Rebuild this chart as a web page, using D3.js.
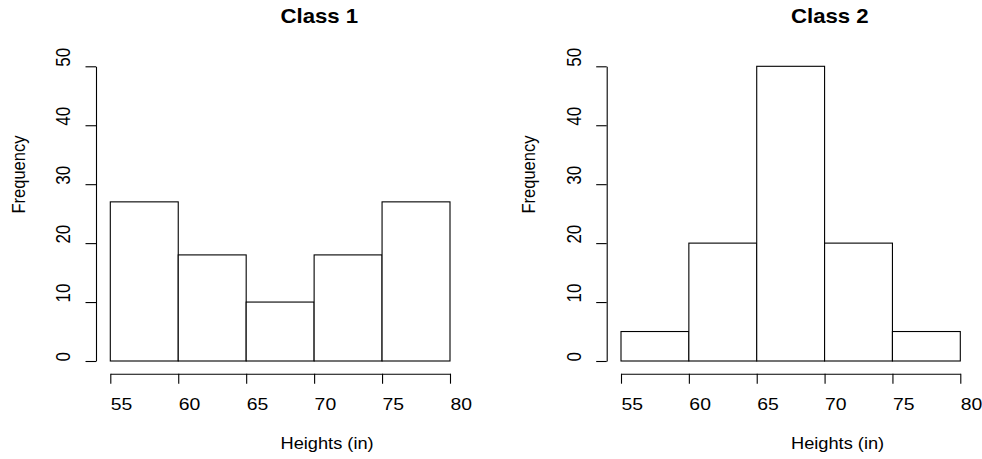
<!DOCTYPE html>
<html>
<head>
<meta charset="utf-8">
<script src="https://cdn.jsdelivr.net/npm/d3@7"></script>
<style>
  html, body { margin: 0; padding: 0; background: #fff; }
  svg { display: block; }
  text { font-family: "Liberation Sans", Arial, Helvetica, sans-serif; fill: #000; }
</style>
</head>
<body>
<script>
// ---- data ----
const binEdges = [55, 60, 65, 70, 75, 80];
const class1Counts = [27, 18, 10, 18, 27];
const class2Counts = [5, 20, 50, 20, 5];
const titles = ["Class 1", "Class 2"];
const xTicks = [55, 60, 65, 70, 75, 80];
const yTicks = [0, 10, 20, 30, 40, 50];
const xLabel = "Heights (in)";
const yLabel = "Frequency";

const W = 982, H = 459;
const svg = d3.select("body").append("svg").attr("width", W).attr("height", H);

const panels = [
  { counts: class1Counts, title: titles[0], axisX: 96, x0: 110.3, x1: 450, mid: 280.5 },
  { counts: class2Counts, title: titles[1], axisX: 606.7, x0: 621, x1: 960.3, mid: 791 }
];
const SX = 1.14; // horizontal stretch of the original raster

panels.forEach(p => {
  const g = svg.append("g");
  const x = d3.scaleLinear().domain([55, 80]).range([p.x0, p.x1]);
  const y = d3.scaleLinear().domain([0, 50]).range([361, 66.3]);

  const bins = p.counts.map((c, i) => ({ lo: binEdges[i], hi: binEdges[i + 1], c }));
  g.selectAll("rect.bar").data(bins).enter().append("rect")
    .attr("class", "bar")
    .attr("x", d => x(d.lo))
    .attr("y", d => y(d.c))
    .attr("width", d => x(d.hi) - x(d.lo))
    .attr("height", d => y(0) - y(d.c))
    .attr("fill", "#fff")
    .attr("stroke", "#000")
    .attr("stroke-width", 1.1);

  // x axis
  const xa = g.append("g").attr("transform", "translate(0,373.7)")
    .call(d3.axisBottom(x).tickValues(xTicks).tickSize(10).tickSizeOuter(0).tickFormat(d3.format("d")));
  xa.selectAll("path, line").attr("stroke", "#000").attr("stroke-width", 1.1);
  xa.selectAll("text")
    .attr("y", null).attr("dy", null)
    .attr("text-anchor", "start")
    .attr("font-size", 17)
    .attr("transform", "translate(0,36.3) scale(" + SX + ",1)");
  xa.attr("font-family", null).attr("font-size", null);

  // y axis
  const ya = g.append("g").attr("transform", "translate(" + p.axisX + ",0)")
    .call(d3.axisLeft(y).tickValues(yTicks).tickSize(10.5).tickSizeOuter(0).tickFormat(d3.format("d")));
  ya.selectAll("path, line").attr("stroke", "#000").attr("stroke-width", 1.1);
  ya.selectAll(".tick text")
    .attr("x", null).attr("dy", null)
    .attr("text-anchor", "start")
    .attr("font-size", 17)
    .attr("transform", "translate(-26,0) scale(" + SX + ",1) rotate(-90)");
  ya.attr("font-family", null).attr("font-size", null);

  // title
  g.append("text")
    .attr("text-anchor", "start")
    .attr("font-size", 20)
    .attr("font-weight", "bold")
    .attr("transform", "translate(" + p.mid + ",22.7) scale(1.11,1)")
    .text(p.title);

  // x label
  g.append("text")
    .attr("text-anchor", "start")
    .attr("font-size", 16)
    .attr("transform", "translate(" + p.mid + ",449) scale(" + SX + ",1)")
    .text(xLabel);

  // y label
  g.append("text")
    .attr("text-anchor", "start")
    .attr("font-size", 16.5)
    .attr("transform", "translate(" + (p.axisX - 71.5) + ",213.5) scale(" + SX + ",1) rotate(-90)")
    .text(yLabel);
});
</script>
</body>
</html>
